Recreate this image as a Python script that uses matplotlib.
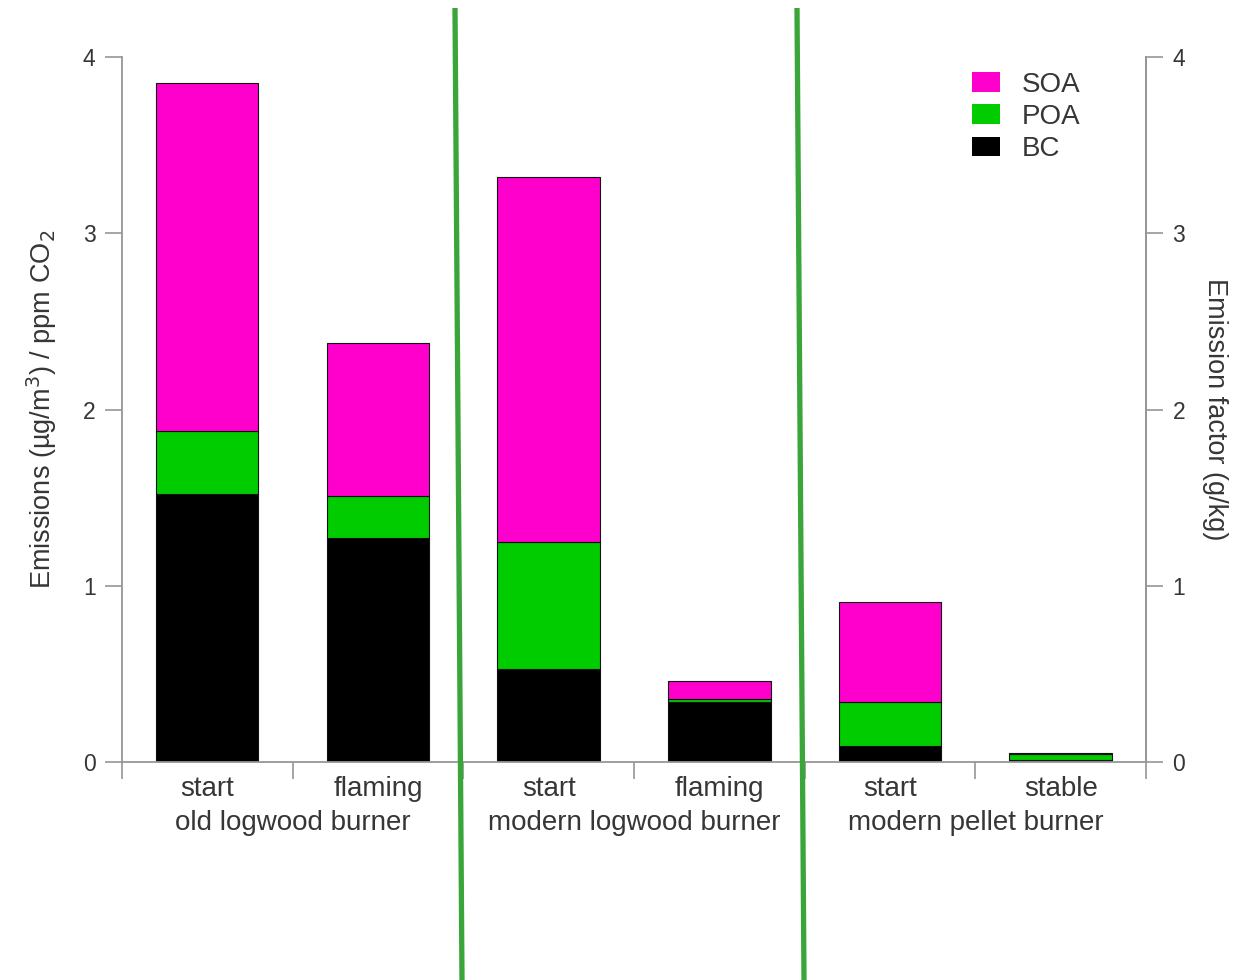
import matplotlib.pyplot as plt
from matplotlib.lines import Line2D
from matplotlib.patches import Patch

plt.rcParams['font.family'] = ['Liberation Sans', 'DejaVu Sans']

# stacked components per burner phase (left axis units)
phases = ['start', 'flaming', 'start', 'flaming', 'start', 'stable']
groups = ['old logwood burner', 'modern logwood burner', 'modern pellet burner']
bc = [1.52, 1.27, 0.53, 0.34, 0.09, 0.01]
poa = [0.36, 0.24, 0.72, 0.02, 0.25, 0.035]
soa = [1.97, 0.87, 2.07, 0.10, 0.57, 0.005]

c_soa = '#ff00cc'
c_poa = '#00cc00'
c_bc = '#000000'
txt = '#363636'
spine = '#969696'

W, H = 1238, 980
fig = plt.figure(figsize=(W / 100, H / 100), dpi=100)
ax = fig.add_axes([0.0985, 0.2224, 0.8272, 0.7194])

x = range(len(phases))
poa_base = [b for b in bc]
soa_base = [b + p for b, p in zip(bc, poa)]
kw = dict(width=0.6, edgecolor='#111111', linewidth=0.8)
ax.bar(x, bc, color=c_bc, **kw)
ax.bar(x, poa, bottom=poa_base, color=c_poa, **kw)
ax.bar(x, soa, bottom=soa_base, color=c_soa, **kw)

ax.set_xlim(-0.5, 5.5)
ax.set_ylim(0, 4)
ax.set_yticks([0, 1, 2, 3, 4])
ax.set_xticks([i - 0.5 for i in range(7)])
ax.set_xticklabels([])
ax.tick_params(axis='x', direction='out', length=12, color=spine, width=1.2)
ax.tick_params(axis='y', direction='out', length=12, color=spine, width=1.2,
               labelsize=16.5, labelcolor=txt, pad=7)
ax.spines['top'].set_visible(False)
for s in ['left', 'right', 'bottom']:
    ax.spines[s].set_color(spine)
    ax.spines[s].set_linewidth(1.3)

ax.set_ylabel('Emissions (µg/m$^3$) / ppm CO$_2$', fontsize=19.5, color=txt)
ax.yaxis.set_label_coords(-0.078, 0.5)
ax.yaxis.label.set_va('center')

ax2 = ax.twinx()
ax2.set_ylim(0, 4)
ax2.set_yticks([0, 1, 2, 3, 4])
ax2.tick_params(axis='y', direction='out', length=12, color=spine, width=1.2,
                labelsize=16.5, labelcolor=txt, pad=7)
for s in ['top', 'left', 'bottom']:
    ax2.spines[s].set_visible(False)
ax2.spines['right'].set_color(spine)
ax2.spines['right'].set_linewidth(1.3)
ax2.set_ylabel('Emission factor (g/kg)', fontsize=19.5, color=txt, rotation=-90)
ax2.yaxis.set_label_coords(1.067, 0.5)
ax2.yaxis.label.set_va('center')

# phase and burner labels under the axis
for i, p in enumerate(phases):
    ax.text(i, -0.153, p, ha='center', va='center', fontsize=20, color=txt,
            clip_on=False)
for g, name in enumerate(groups):
    ax.text(2 * g + 0.5, -0.346, name, ha='center', va='center', fontsize=20,
            color=txt, clip_on=False)

handles = [Patch(facecolor=c_soa, label='SOA'),
           Patch(facecolor=c_poa, label='POA'),
           Patch(facecolor=c_bc, label='BC')]
leg = fig.legend(handles=handles, loc='upper left',
                 bbox_to_anchor=(972 / W, 1 - 72 / H), frameon=False,
                 fontsize=20, handlelength=1.0, handleheight=0.72,
                 labelspacing=0.22, handletextpad=0.8, borderpad=0,
                 borderaxespad=0)
for t in leg.get_texts():
    t.set_color(txt)

# green dividers between burner types
for (xt, xb) in [(455, 462), (797, 804)]:
    fig.add_artist(Line2D([xt / W, xb / W], [1 - 8 / H, 0], transform=fig.transFigure,
                          color='#3aa53a', linewidth=3.8, solid_capstyle='butt'))

fig.savefig('out.png', dpi=100)
